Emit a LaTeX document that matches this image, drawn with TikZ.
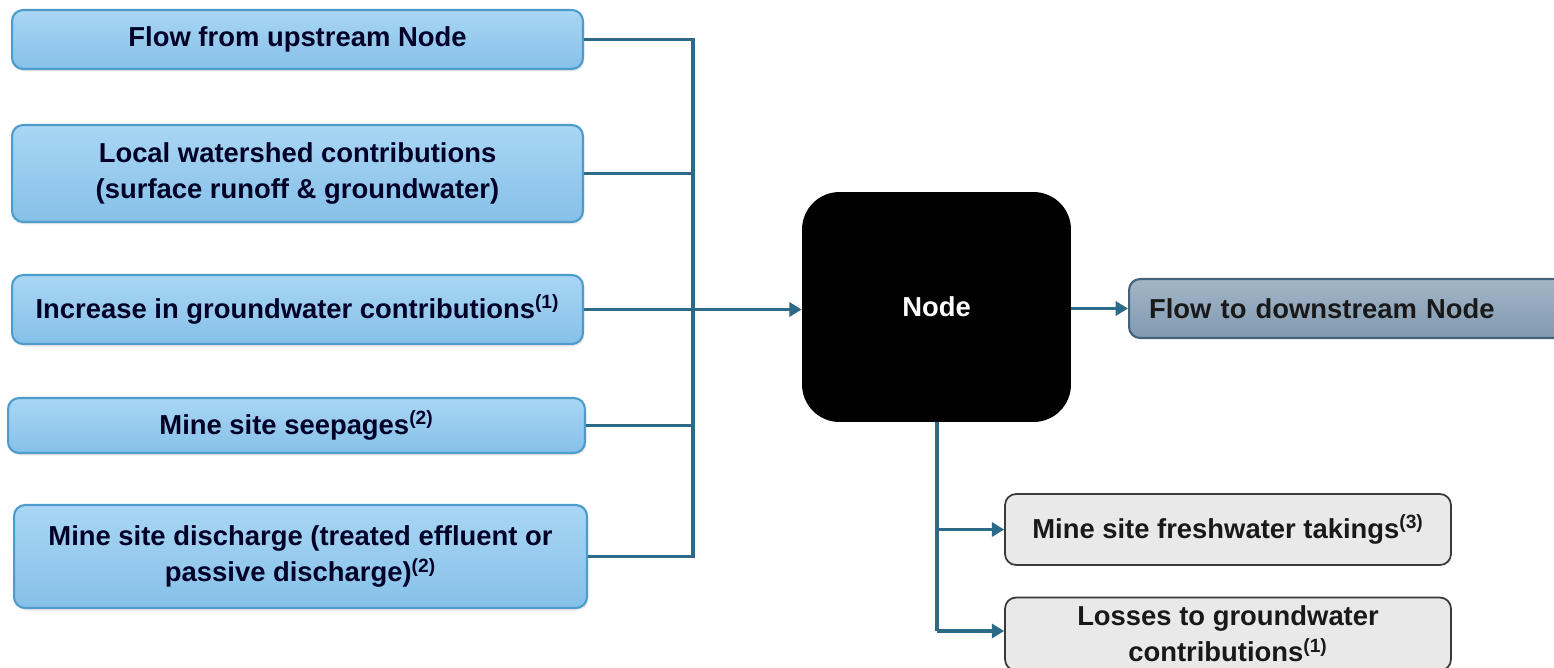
\documentclass[tikz,border=0pt]{standalone}
\usepackage{fontspec}
\setmainfont{Liberation Sans}
\usetikzlibrary{arrows.meta,shadows}
\definecolor{conn}{HTML}{2C6A88}
\definecolor{bluetop}{HTML}{A9D6F4}
\definecolor{bluebot}{HTML}{86C0E8}
\definecolor{blueedge}{HTML}{4E9CCB}
\definecolor{graytop}{HTML}{A3B6C8}
\definecolor{graybot}{HTML}{8199B0}
\definecolor{grayedge}{HTML}{44627A}
\definecolor{lightfill}{HTML}{E9E9E9}
\definecolor{lightedge}{HTML}{3A3A3A}
\newcommand{\boxfont}{\fontsize{15.6}{20.5}\selectfont\bfseries}
\tikzset{
  inbox/.style={draw=blueedge, line width=1.2pt, rounded corners=0.22cm,
    top color=bluetop, bottom color=bluebot, align=center,
    font=\boxfont, text=black!85!blue,
    inner sep=0pt, drop shadow={opacity=0.15, shadow xshift=0.03cm, shadow yshift=-0.05cm}},
  outbox/.style={draw=lightedge, line width=1pt, rounded corners=0.22cm,
    fill=lightfill, align=center, font=\boxfont,
    text=black!90, inner sep=0pt},
  downbox/.style={draw=grayedge, line width=1.2pt, rounded corners=0.22cm,
    top color=graytop, bottom color=graybot, align=left,
    font=\boxfont, text=black!90, inner ysep=0pt, inner xsep=0.4cm},
  hub/.style={fill=black, rounded corners=0.75cm, text=white,
    font=\boxfont, inner sep=0pt},
  conline/.style={draw=conn, line width=1.8pt},
  conarrow/.style={conline, -{Triangle[length=7pt,width=8pt]}}
}
\begin{document}
\begin{tikzpicture}[x=0.02cm,y=-0.02cm]
\useasboundingbox (0,0) rectangle (1554,667);
\clip (0,0) rectangle (1554,667);
\fill[white] (0,0) rectangle (1554,667);
% input boxes
\node[inbox, minimum width=11.42cm, minimum height=1.18cm] (up) at (297.5,39.5) {Flow from upstream Node};
\node[inbox, minimum width=11.42cm, minimum height=1.94cm] (loc) at (297.5,173.5) {Local watershed contributions\\(surface runoff \& groundwater)};
\node[inbox, minimum width=11.42cm, minimum height=1.38cm] (inc) at (297.5,309.5) {Increase in groundwater contributions\textsuperscript{(1)}};
\node[inbox, minimum width=11.54cm, minimum height=1.10cm] (seep) at (296.5,425.5) {Mine site seepages\textsuperscript{(2)}};
\node[inbox, minimum width=11.46cm, minimum height=2.06cm] (dis) at (300.5,556.5) {Mine site discharge (treated effluent or\\passive discharge)\textsuperscript{(2)}};
% hub
\node[hub, minimum width=5.38cm, minimum height=4.6cm] (hub) at (936.5,307) {Node};
% outputs
\node[downbox, text width=8.8cm, minimum height=1.18cm, anchor=west] (down) at (1128,308.5) {Flow to downstream Node};
\node[outbox, minimum width=8.92cm, minimum height=1.42cm] (fresh) at (1228,529.5) {Mine site freshwater takings\textsuperscript{(3)}};
\node[outbox, minimum width=8.92cm, minimum height=1.46cm] (loss) at (1228,634) {Losses to groundwater\\contributions\textsuperscript{(1)}};
% bus
\coordinate (bus) at (693,309);
\draw[conline] (up.east) -| (dis.east -| bus) -- (dis.east);
\draw[conline] (loc.east) -- (loc.east -| bus);
\draw[conline] (inc.east) -- (inc.east -| bus);
\draw[conline] (seep.east) -- (seep.east -| bus);
\draw[conarrow] (inc.east -| bus) -- (hub.west |- inc.east);
\draw[conarrow] (hub.east |- down.west) -- (down.west);
\coordinate (drop) at (937,631);
\draw[conline] (hub.south -| drop) -- (drop);
\draw[conarrow] (drop |- fresh.west) -- (fresh.west);
\draw[conarrow] (drop) -- (drop -| loss.west);
\end{tikzpicture}
\end{document}
